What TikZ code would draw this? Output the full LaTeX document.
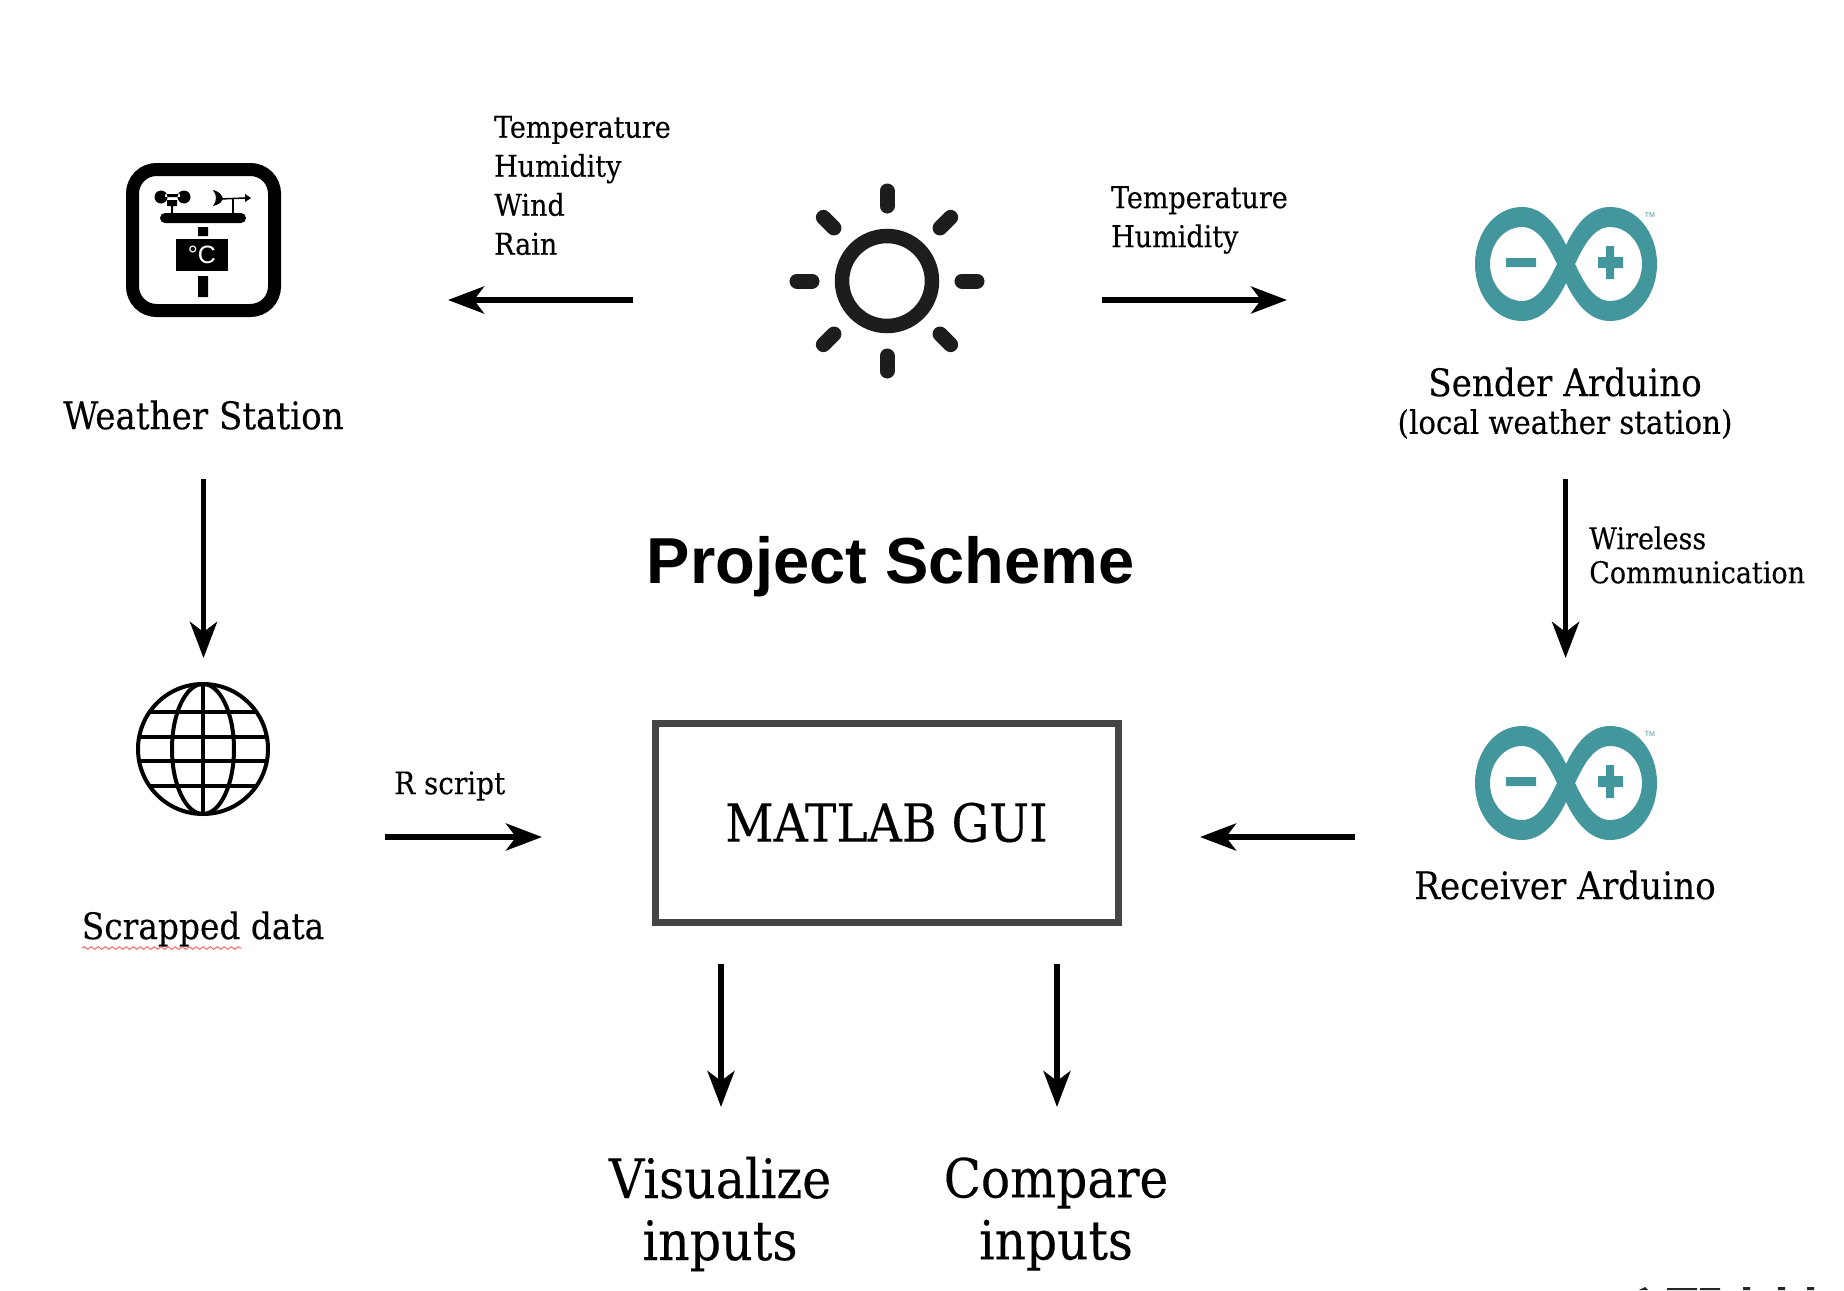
\documentclass[tikz,border=0pt]{standalone}
\usepackage{fontspec}
\setmainfont[FakeBold=0.2]{DejaVu Serif Condensed}
\newfontfamily\titlefont{Liberation Sans}
\usetikzlibrary{arrows.meta,decorations.pathmorphing}
\definecolor{arduinoteal}{HTML}{42969C}
\definecolor{sunblack}{HTML}{1D1D1B}
\tikzset{pics/arduinologo/.style={code={
    \fill[arduinoteal,even odd rule] (0,-19) .. controls (-10,-40) and (-24,-57) .. (-44,-57) .. controls (-71,-57) and (-91,-31) .. (-91,0) .. controls (-91,31) and (-71,57) .. (-44,57) .. controls (-24,57) and (-10,40) .. (0,19) .. controls (10,40) and (24,57) .. (44,57) .. controls (71,57) and (91,31) .. (91,0) .. controls (91,-31) and (71,-57) .. (44,-57) .. controls (24,-57) and (10,-40) .. (0,-19) -- cycle
      (-9,0) .. controls (-16,-14) and (-26,-37) .. (-44,-37) .. controls (-62,-37) and (-76,-20) .. (-76,0) .. controls (-76,20) and (-62,37) .. (-44,37) .. controls (-26,37) and (-16,14) .. (-9,0) -- cycle
      (9,0) .. controls (16,-14) and (26,-37) .. (44,-37) .. controls (62,-37) and (76,-20) .. (76,0) .. controls (76,20) and (62,37) .. (44,37) .. controls (26,37) and (16,14) .. (9,0) -- cycle;
    \fill[arduinoteal] (-60,-6) rectangle (-30,3) (32,-7) rectangle (57,4) (40,-18) rectangle (48,15);
    \node[text=arduinoteal,inner sep=0pt,font=\titlefont\fontsize{7}{7}\selectfont] at (84,-49) {TM};
}}}
\begin{document}
\begin{tikzpicture}[x=1pt,y=-1pt]
    \tikzstyle{flow}=[-{Stealth[length=36pt,width=27pt,inset=10pt]},line width=5.5pt,black]
    \tikzstyle{biglabel}=[inner sep=0pt,font=\fontsize{38}{40}\selectfont]
    \tikzstyle{small}=[inner sep=0pt,align=left,anchor=west,font=\fontsize{30}{39}\selectfont]
    \useasboundingbox (0,0) rectangle (1844,1290);
    % station icon
    \draw[line width=13pt,rounded corners=24pt] (132.5,169.5) rectangle (274.5,310.5);
    \fill[rounded corners=5pt] (160,213) rectangle (246,223);
    \fill (198,227) rectangle (208,236) (198,276) rectangle (208,297);
    \fill (176,239) rectangle (228,271);
    \node[inner sep=0pt,text=white,font=\titlefont\fontsize{25}{25}\selectfont] at (202,255) {°C};
    \fill (161,197) circle (6.5) (184,197) circle (6.5) (165,194) rectangle (180,197);
    \fill (167,200) rectangle (177,206) (171,206) rectangle (173,213);
    \fill (232,199) rectangle (234,213);
    \draw[line width=1.5pt] (220,199) -- (245,198);
    \fill (245,194) -- (251,198) -- (245,202) -- cycle;
    \fill (213,190) .. controls (220,192) and (222,195) .. (223,199) .. controls (222,202) and (220,204) .. (213,206) .. controls (217,201) and (217,195) .. (213,190) -- cycle;
    % sun
    \node[circle,draw=sunblack,line width=14.5pt,minimum size=90pt,inner sep=0pt] (sun) at (887,281) {};
    \foreach \a in {0,45,...,315}
        \draw[sunblack,line width=15pt,line cap=round] (sun.center) ++(\a:75) -- ++(\a:15);
    % globe
    \begin{scope}[line width=4pt]
        \node[circle,draw,line width=4pt,minimum size=130pt,inner sep=0pt] (globe) at (203,749) {};
        \draw (globe.center) ellipse (31 and 65);
        \draw (globe.north) -- (globe.south);
        \foreach \y/\w in {-37/53,-12/64,12/64,37/53}
            \draw (globe.center) ++(-\w,\y) -- ++(2*\w,0);
    \end{scope}
    % arduino
    \pic at (1566,264) {arduinologo};
    \pic at (1566,783) {arduinologo};
    % labels
    \node[biglabel] (station) at (203.5,415) {Weather Station};
    \node[small] (stationvars) at (494,185.5) {Temperature\\Humidity\\Wind\\Rain};
    \node[small] (sendervars) at (1111,220) {Temperature\\Humidity};
    \node[biglabel] (sender) at (1565,382) {Sender Arduino};
    \node[inner sep=0pt,font=\fontsize{32.5}{34}\selectfont] (senderwhere) at (1565,424) {(local weather station)};
    \node[inner sep=0pt,font=\titlefont\bfseries\fontsize{65}{65}\selectfont] (title) at (890.5,567) {Project Scheme};
    \node[inner sep=0pt,align=left,anchor=west,font=\fontsize{30}{34}\selectfont] (wireless) at (1589,555) {Wireless\\Communication};
    \node[inner sep=0pt,align=left,anchor=west,font=\fontsize{31}{39}\selectfont] (rscript) at (394,786) {R script};
    \node[draw=black!73,line width=7pt,minimum width=463pt,minimum height=199pt,inner sep=0pt,font=\fontsize{52.5}{55}\selectfont] (gui) at (886.5,822.5) {MATLAB GUI};
    \node[biglabel] (receiver) at (1565,885) {Receiver Arduino};
    \node[inner sep=0pt,font=\fontsize{36.5}{40}\selectfont] (scrapped) at (203,929) {Scrapped data};
    \draw[red!60!white,line width=1pt,decorate,decoration={snake,amplitude=1.3pt,segment length=7pt}] (82,948) -- (241,948);
    \node[align=center,inner sep=0pt,font=\fontsize{54.5}{62}\selectfont] (visualize) at (720,1214) {Visualize\\inputs};
    \node[align=center,inner sep=0pt,font=\fontsize{54}{62}\selectfont] (compare) at (1056,1214) {Compare\\inputs};
    % arrows
    \coordinate (a1) at (633,300); \coordinate (a2) at (448,300);
    \coordinate (b1) at (1102,300); \coordinate (b2) at (1287,300);
    \coordinate (c1) at (203.5,479); \coordinate (c2) at (203.5,658);
    \coordinate (d1) at (1565.6,479); \coordinate (d2) at (1565.6,658);
    \coordinate (e1) at (385,837); \coordinate (e2) at (542,837);
    \coordinate (f1) at (1355,837); \coordinate (f2) at (1200,837);
    \coordinate (g1) at (721,964); \coordinate (g2) at (721,1107);
    \coordinate (h1) at (1057,964); \coordinate (h2) at (1057,1107);
    \foreach \p in {a,b,c,d,e,f,g,h}
        \draw[flow] (\p1) -- (\p2);
    % page edge
    \fill[black!85] (1639,1290) -- (1645,1287) -- (1648,1290) -- cycle;
    \fill[black!85] (1667,1288) rectangle (1697,1290) (1700,1288) rectangle (1720,1290);
    \fill[black!85] (1743,1287) rectangle (1750,1290) (1778,1287) rectangle (1785,1290) (1807,1287) rectangle (1814,1290);
\end{tikzpicture}
\end{document}
